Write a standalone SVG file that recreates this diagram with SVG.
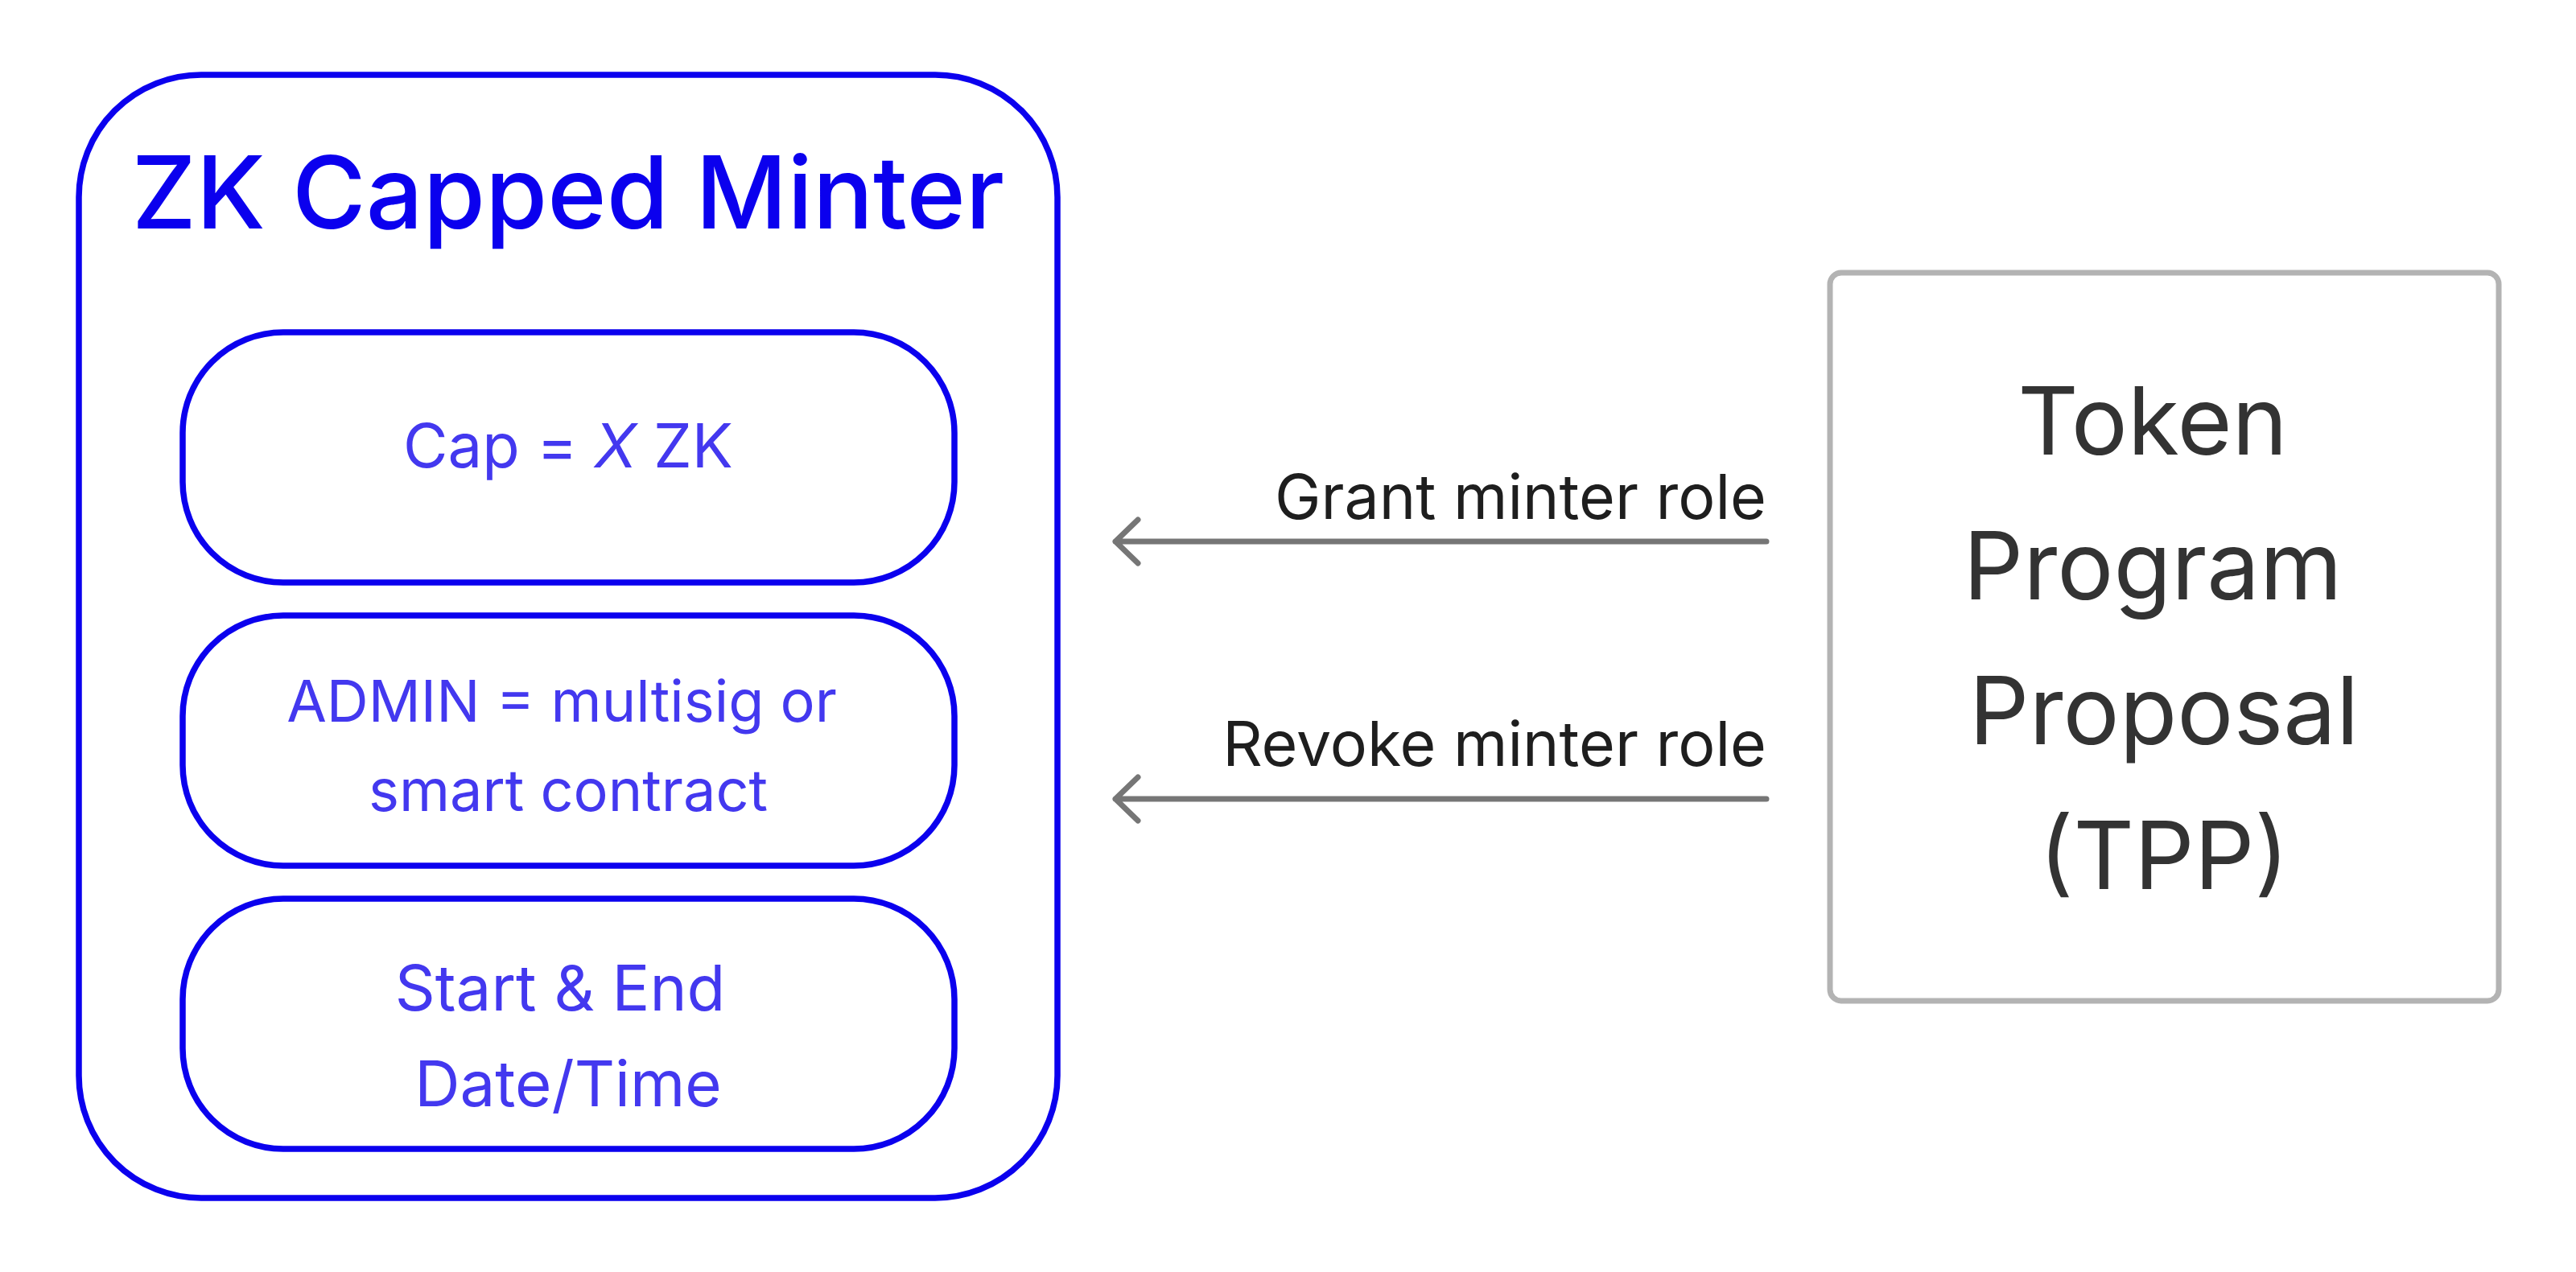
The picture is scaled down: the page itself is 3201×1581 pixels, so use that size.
<svg xmlns="http://www.w3.org/2000/svg" width="3201" height="1581" viewBox="0 0 3201 1581">
<style>
.outer{fill:#fff;stroke:#0b00ee;stroke-width:7.5}
.inner{fill:#fff;stroke:#0b00ee;stroke-width:7.5}
.tpp{fill:#fff;stroke:#b3b3b3;stroke-width:7}
.title{font-family:Inter,"Liberation Sans",sans-serif;font-size:125px;font-weight:500;fill:#0b00ee;text-anchor:middle}
.itext{font-family:Inter,"Liberation Sans",sans-serif;font-size:78px;fill:#4338ef;text-anchor:middle}
.small{font-size:72px}
.capt{font-size:76px}
.ttext{font-family:Inter,"Liberation Sans",sans-serif;font-size:117px;fill:#333333;text-anchor:middle}
.label{font-family:Inter,"Liberation Sans",sans-serif;font-size:77px;fill:#1e1e1e;text-anchor:end}
.conn{stroke:#767676;stroke-width:7;fill:none;stroke-linecap:round;stroke-linejoin:round}
</style>
<rect width="3201" height="1581" fill="#fff"/>
<g id="zk-capped-minter">
<rect class="outer" x="98" y="93" width="1216" height="1396" rx="152" ry="152"/>
<text class="title" x="706" y="284">ZK Capped Minter</text>
</g>
<g id="cap">
<rect class="inner" x="227" y="413" width="959" height="311" rx="125" ry="125"/>
<text class="itext capt" x="706" y="581">Cap = <tspan font-style="italic">X</tspan> ZK</text>
</g>
<g id="admin">
<rect class="inner" x="227" y="765" width="959" height="311" rx="125" ry="125"/>
<text class="itext small" x="698" y="897">ADMIN = multisig or</text>
<text class="itext small" x="706" y="1008">smart contract</text>
</g>
<g id="dates">
<rect class="inner" x="227" y="1117" width="959" height="311" rx="125" ry="125"/>
<text class="itext" x="696" y="1256">Start &amp; End</text>
<text class="itext" x="706" y="1375">Date/Time</text>
</g>
<g id="tpp">
<rect class="tpp" x="2274" y="339" width="831" height="905" rx="14" ry="14"/>
<text class="ttext" x="2675" y="565">Token</text>
<text class="ttext" x="2675" y="745">Program</text>
<text class="ttext" x="2689" y="925">Proposal</text>
<text class="ttext" x="2689" y="1105">(TPP)</text>
</g>
<g id="connectors">
<g id="grant">
<path class="conn" d="M2195,673 H1386 M1414,646 L1386,673 L1414,700"/>
<text class="label" x="2195" y="645">Grant minter role</text>
</g>
<g id="revoke">
<path class="conn" d="M2195,993 H1386 M1414,966 L1386,993 L1414,1020"/>
<text class="label" x="2195" y="952">Revoke minter role</text>
</g>
</g>
</svg>
